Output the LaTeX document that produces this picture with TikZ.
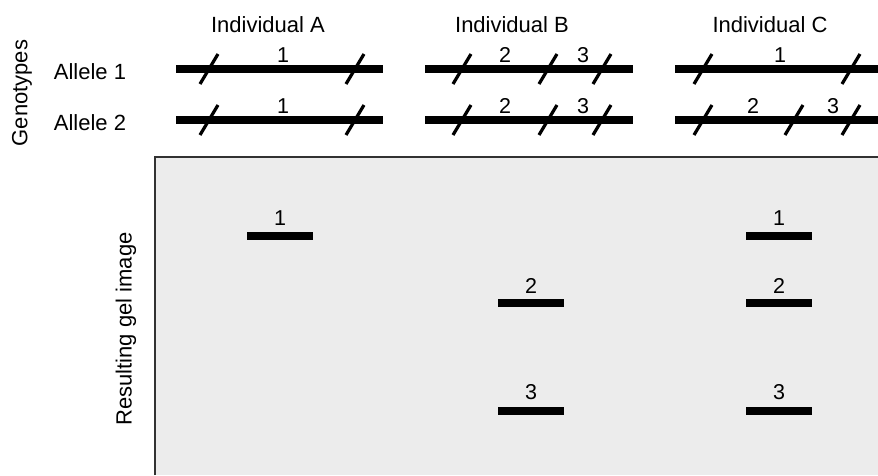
\documentclass[tikz,border=0pt]{standalone}
\usepackage{fontspec}
\setmainfont{Liberation Sans}
\definecolor{gelgray}{RGB}{236,236,236}
\definecolor{rimgray}{RGB}{50,50,50}
\def\cut(#1,#2){\draw[cut] (#1-9,#2+15) -- (#1+9,#2-15);}

\begin{document}
\begin{tikzpicture}[x=1pt,y=-1pt,
		allele/.style={line width=8pt},
		cut/.style={line width=3.2pt},
		band/.style={line width=8pt},
		lbl/.style={font=\fontsize{22}{26}\selectfont, inner sep=0pt},
		num/.style={font=\fontsize{21.5}{24}\selectfont, inner sep=0pt}]
			%%%%% START %%%%%
			\useasboundingbox (0,0) rectangle (878,475);
			
			% gel
			\fill[gelgray] (155,157) rectangle (878,475);
			\draw[line width=2.5pt, color=rimgray] (155,475) -- (155,157) -- (878,157);
			
			% side labels
			\node[lbl, rotate=90] (genotypes) at (22,93) {Genotypes};
			\node[lbl, rotate=90] (gelimage) at (126,329) {Resulting gel image};
			\node[lbl] (allele1) at (90,72) {Allele 1};
			\node[lbl] (allele2) at (90,123) {Allele 2};
			
			% individuals
			\node[lbl] (indA) at (268,25) {Individual A};
			\node[lbl] (indB) at (512,25) {Individual B};
			\node[lbl] (indC) at (770,25) {Individual C};
			
			% individual A
			\draw[allele] (176,69) -- (383,69);
			\cut(209,69) \cut(355,69)
			\node[num] (a1n) at (283,55) {1};
			\draw[allele] (176,120) -- (383,120);
			\cut(209,120) \cut(355,120)
			\node[num] (a2n) at (283,106) {1};
			
			% individual B
			\draw[allele] (425,69) -- (633,69);
			\cut(462,69) \cut(548,69) \cut(602,69)
			\node[num] (b1n) at (505,55) {2};
			\node[num] (b1m) at (583,55) {3};
			\draw[allele] (425,120) -- (633,120);
			\cut(462,120) \cut(548,120) \cut(602,120)
			\node[num] (b2n) at (505,106) {2};
			\node[num] (b2m) at (583,106) {3};
			
			% individual C
			\draw[allele] (675,69) -- (878,69);
			\cut(703,69) \cut(851,69)
			\node[num] (c1n) at (780,55) {1};
			\draw[allele] (675,120) -- (878,120);
			\cut(703,120) \cut(794,120) \cut(851,120)
			\node[num] (c2n) at (753,106) {2};
			\node[num] (c2m) at (833,106) {3};
			
			% bands
			\draw[band] (247,236) -- (313,236);
			\node[num] (gA1) at (280,218) {1};
			
			\draw[band] (498,303) -- (564,303);
			\node[num] (gB2) at (531,286) {2};
			\draw[band] (498,411) -- (564,411);
			\node[num] (gB3) at (531,392) {3};
			
			\draw[band] (746,236) -- (812,236);
			\node[num] (gC1) at (779,218) {1};
			\draw[band] (746,303) -- (812,303);
			\node[num] (gC2) at (779,286) {2};
			\draw[band] (746,411) -- (812,411);
			\node[num] (gC3) at (779,392) {3};
			%%%%% END %%%%%
\end{tikzpicture}
\end{document}
